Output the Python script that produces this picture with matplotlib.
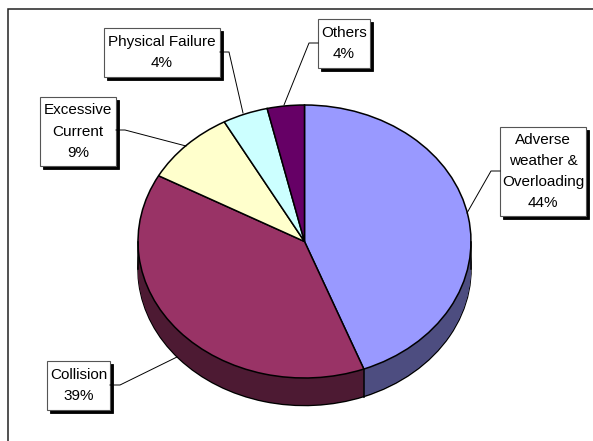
import numpy as np
import matplotlib
matplotlib.use("Agg")
import matplotlib.pyplot as plt
from matplotlib.patches import Rectangle

categories = ["Adverse\nweather &\nOverloading", "Collision", "Excessive\nCurrent", "Physical Failure", "Others"]
values = [44.2, 38.8, 9.0, 4.4, 3.6]
percent_labels = ["44%", "39%", "9%", "4%", "4%"]
top_colors = ["#9999FF", "#993366", "#FFFFCC", "#CCFFFF", "#660066"]
side_colors = ["#4D4D80", "#4D1A33", "#808066", "#668080", "#330033"]

W, H = 593, 441
CX, CY, RX, RY, DEPTH = 304.5, 241.5, 166.5, 136.5, 27.5

# label box layout in pixels: left, top, right, bottom
boxes = [(500, 127, 586, 216), (47, 361, 110, 410), (40, 97, 116, 166), (104, 28, 220, 77), (318, 19, 370, 68)]
leaders = [
    [(500, 171), (491, 171), (467, 213)],
    [(110, 385), (120, 385), (177, 357)],
    [(116, 130), (125, 130), (186, 146)],
    [(220, 52), (229, 52), (243, 113)],
    [(318, 43), (309, 43), (284, 105)],
]

plt.rcParams["font.family"] = ["Liberation Sans", "DejaVu Sans"]
fig = plt.figure(figsize=(W / 100, H / 100), dpi=100, facecolor="white")

# pie axes: unit circle stretched to the ellipse
ax = fig.add_axes([0, 0, 1, 1])
d = DEPTH / RY
kw = dict(startangle=90, counterclock=False)
ax.pie(values, colors=side_colors, center=(0, -d),
       wedgeprops=dict(edgecolor="black", linewidth=1.1), **kw)
for off in np.linspace(d, 0, 40)[1:-1]:
    ax.pie(values, colors=side_colors, center=(0, -off),
           wedgeprops=dict(edgecolor="none", linewidth=0), **kw)
ax.plot([-1, -1], [0, -d], color="black", lw=1.1)
ax.plot([1, 1], [0, -d], color="black", lw=1.1)
# front edge of the visible slice boundary
theta = np.deg2rad(np.cumsum(values)[0] * 3.6)
ax.plot([np.sin(theta)] * 2, [np.cos(theta), np.cos(theta) - d], color="black", lw=1.1)
ax.pie(values, colors=top_colors, center=(0, 0),
       wedgeprops=dict(edgecolor="black", linewidth=1.1), **kw)
ax.set_aspect("auto")
ax.set_xlim(-CX / RX, (W - CX) / RX)
ax.set_ylim((CY - H) / RY, CY / RY)
ax.axis("off")

# overlay axes in pixel coordinates
ov = fig.add_axes([0, 0, 1, 1], facecolor="none")
ov.set_xlim(0, W)
ov.set_ylim(H, 0)
ov.axis("off")

ov.plot([7.5, 7.5, W], [H, 9, 9], color="#222222", lw=1.1, solid_joinstyle="miter")

for pts in leaders:
    xs, ys = zip(*pts)
    ov.plot(xs, ys, color="black", lw=0.7)

for (l, t, r, b), cat, pct in zip(boxes, categories, percent_labels):
    ov.add_patch(Rectangle((l + 3, t + 3), r - l, b - t, facecolor="black", edgecolor="black", lw=0.6))
    ov.add_patch(Rectangle((l, t), r - l, b - t, facecolor="white", edgecolor="#555555", lw=0.8))
    ov.text((l + r) / 2, (t + b) / 2, f"{cat}\n{pct}", ha="center", va="center",
            fontsize=11, color="black", linespacing=1.65)

fig.savefig("out.png", dpi=100)
